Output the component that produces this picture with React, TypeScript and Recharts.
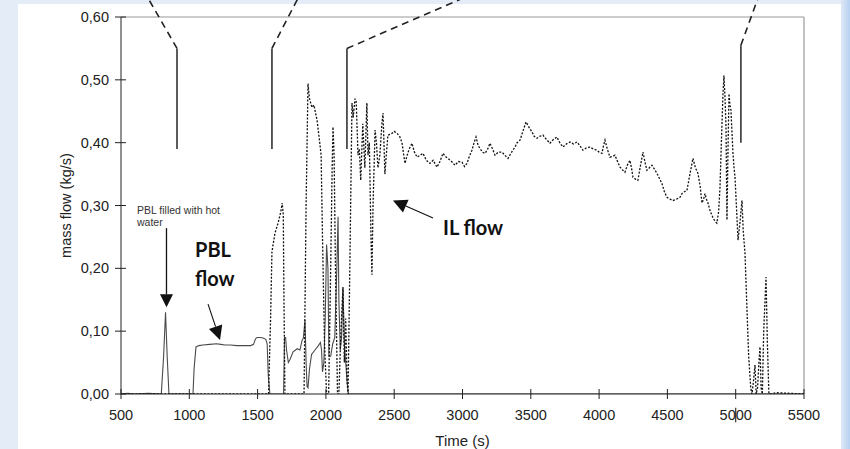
import { LineChart, Line, XAxis, YAxis, ReferenceLine, ReferenceDot } from 'recharts';

// IL flow (dotted trace)
const ilTime = [
  500, 1580, 1595, 1605, 1627, 1650, 1670, 1680, 1688, 1693,
  1700, 1840, 1855, 1869, 1880, 1898, 1912, 1935, 1955, 1965,
  1975, 1990, 2005, 2020, 2035, 2045, 2052, 2060, 2070, 2085,
  2095, 2110, 2125, 2135, 2145, 2155, 2162, 2175, 2191, 2200,
  2213, 2222, 2235, 2245, 2255, 2270, 2285, 2300, 2308, 2318,
  2330, 2337, 2345, 2360, 2370, 2381, 2395, 2410, 2418, 2425,
  2432, 2442, 2454, 2480, 2500, 2520, 2540, 2557, 2570, 2579,
  2595, 2610, 2630, 2648, 2667, 2690, 2711, 2735, 2762, 2785,
  2813, 2835, 2857, 2875, 2894, 2920, 2945, 2970, 2996, 3015,
  3033, 3050, 3069, 3085, 3099, 3115, 3128, 3145, 3165, 3185,
  3201, 3220, 3238, 3262, 3289, 3310, 3333, 3360, 3384, 3400,
  3421, 3445, 3465, 3485, 3509, 3525, 3545, 3565, 3589, 3615,
  3640, 3665, 3691, 3712, 3735, 3760, 3787, 3812, 3838, 3860,
  3882, 3908, 3933, 3958, 3984, 4000, 4021, 4032, 4043, 4060,
  4079, 4098, 4116, 4135, 4153, 4170, 4189, 4208, 4226, 4237,
  4248, 4266, 4284, 4300, 4321, 4335, 4350, 4368, 4387, 4405,
  4424, 4442, 4460, 4478, 4497, 4520, 4541, 4565, 4592, 4607,
  4625, 4643, 4665, 4687, 4705, 4724, 4740, 4753, 4765, 4775,
  4786, 4797, 4815, 4833, 4848, 4862, 4875, 4885, 4895, 4907,
  4914, 4922, 4929, 4936, 4943, 4951, 4958, 4965, 4972, 4980,
  4988, 4995, 5005, 5017, 5030, 5046, 5055, 5068, 5080, 5095,
  5110, 5119, 5130, 5141, 5150, 5160, 5170, 5178, 5186, 5195,
  5205, 5222, 5232, 5243, 5300, 5400, 5500,
];
const ilFlow = [
  0, 0, 0.12, 0.226, 0.256, 0.272, 0.29, 0.304, 0.285, 0.15,
  0, 0, 0.3, 0.494, 0.47, 0.456, 0.46, 0.436, 0.4, 0.38,
  0.25, 0.08, 0, 0, 0.2, 0.35, 0.425, 0.38, 0.2, 0,
  0, 0.1, 0.17, 0.05, 0.12, 0.02, 0, 0.2, 0.463, 0.44,
  0.47, 0.465, 0.38, 0.39, 0.34, 0.43, 0.36, 0.463, 0.38, 0.4,
  0.25, 0.19, 0.3, 0.42, 0.4, 0.36, 0.38, 0.43, 0.447, 0.4,
  0.35, 0.38, 0.412, 0.414, 0.418, 0.415, 0.41, 0.4, 0.38, 0.367,
  0.38, 0.39, 0.399, 0.385, 0.377, 0.38, 0.383, 0.372, 0.367, 0.372,
  0.361, 0.37, 0.383, 0.378, 0.375, 0.37, 0.364, 0.37, 0.369, 0.362,
  0.367, 0.378, 0.388, 0.4, 0.409, 0.395, 0.391, 0.385, 0.383, 0.39,
  0.399, 0.39, 0.38, 0.385, 0.385, 0.38, 0.375, 0.385, 0.393, 0.4,
  0.404, 0.42, 0.433, 0.425, 0.417, 0.41, 0.407, 0.41, 0.412, 0.405,
  0.399, 0.405, 0.409, 0.4, 0.393, 0.398, 0.401, 0.398, 0.401, 0.395,
  0.388, 0.392, 0.393, 0.39, 0.388, 0.385, 0.383, 0.395, 0.404, 0.39,
  0.377, 0.378, 0.38, 0.37, 0.361, 0.357, 0.353, 0.365, 0.372, 0.36,
  0.345, 0.342, 0.34, 0.36, 0.385, 0.37, 0.356, 0.36, 0.364, 0.358,
  0.351, 0.343, 0.335, 0.322, 0.313, 0.31, 0.308, 0.31, 0.313, 0.319,
  0.322, 0.324, 0.35, 0.375, 0.36, 0.351, 0.33, 0.304, 0.31, 0.319,
  0.31, 0.304, 0.29, 0.281, 0.275, 0.272, 0.29, 0.329, 0.4, 0.478,
  0.507, 0.47, 0.425, 0.277, 0.38, 0.478, 0.46, 0.452, 0.42, 0.383,
  0.36, 0.345, 0.3, 0.245, 0.27, 0.308, 0.26, 0.224, 0.15, 0.06,
  0.01, 0, 0.02, 0.046, 0, 0.01, 0.05, 0.075, 0.01, 0,
  0.1, 0.186, 0.08, 0, 0.002, 0.001, 0,
];

// PBL flow (solid trace)
const pblTime = [
  500, 550, 600, 700, 795, 812, 826, 838, 851, 1027,
  1035, 1049, 1070, 1100, 1150, 1200, 1230, 1260, 1300, 1350,
  1400, 1450, 1470, 1485, 1496, 1520, 1540, 1560, 1570, 1578,
  1590, 1690, 1697, 1705, 1712, 1725, 1737, 1760, 1790, 1810,
  1825, 1835, 1847, 1855, 1862, 1869, 1880, 1895, 1920, 1945,
  1960, 1968, 1975, 1985, 1995, 2005, 2015, 2022, 2035, 2050,
  2065, 2080, 2089, 2095, 2105, 2115, 2125, 2135, 2145, 2155,
  2165, 5500,
];
const pblFlow = [
  0, 0.001, 0, 0.001, 0, 0.06, 0.13, 0.06, 0, 0,
  0.04, 0.075, 0.077, 0.078, 0.079, 0.08, 0.079, 0.078, 0.078, 0.077,
  0.077, 0.077, 0.079, 0.088, 0.09, 0.09, 0.089, 0.087, 0.08, 0.03,
  0, 0, 0.09, 0.09, 0.07, 0.05, 0.055, 0.067, 0.072, 0.07,
  0.085, 0.089, 0.118, 0.05, 0.012, 0.01, 0.04, 0.063, 0.07, 0.077,
  0.082, 0.07, 0.035, 0.05, 0.12, 0.238, 0.2, 0.06, 0.06, 0.08,
  0.09, 0.2, 0.282, 0.15, 0.07, 0.09, 0.17, 0.08, 0.05, 0.02,
  0, 0,
];

const xTicks = [500, 1000, 1500, 2000, 2500, 3000, 3500, 4000, 4500, 5000, 5500];
const yTicks = [0, 0.1, 0.2, 0.3, 0.4, 0.5, 0.6];

// event markers: vertical bars with dashed leaders running off the top
const eventTime = [910, 1605, 2154, 5038];
const eventBottom = [0.39, 0.39, 0.39, 0.4];
const eventTop = [0.55, 0.55, 0.55, 0.555];
const leaderTime = [698, 1796, 3003, 5163];
const leaderTop = 0.63;

const ilData = ilTime.map((t, i) => ({ t, v: ilFlow[i] }));
const pblData = pblTime.map((t, i) => ({ t, v: pblFlow[i] }));

const FONT = '"Liberation Sans", Arial, sans-serif';
const BOLD = 'Lato, "Open Sans", sans-serif';
const INK = '#222';

const fmt = (v: number) => v.toFixed(2).replace('.', ',');

const YTick = (p: any) => (
  <g>
    <line x1={p.x - 6} x2={p.x + 5} y1={p.y} y2={p.y} stroke={INK} strokeWidth={1} />
    <text x={p.x - 12} y={p.y + 5} textAnchor="end" fontSize={14.5} fontFamily={FONT} fill={INK}>
      {fmt(p.payload.value)}
    </text>
  </g>
);

const XTick = (p: any) => (
  <g>
    <line x1={p.x} x2={p.x} y1={p.y - 5} y2={p.y + 5} stroke={INK} strokeWidth={1} />
    <text x={p.x} y={p.y + 26} textAnchor="middle" fontSize={14.5} fontFamily={FONT} fill={INK}>
      {p.payload.value}
    </text>
  </g>
);

// straight arrow with a filled triangular head at (x2, y2)
const arrow = (len: number, half: number, width: number) => (p: any) => {
  const { x1, y1, x2, y2 } = p;
  const d = Math.hypot(x2 - x1, y2 - y1) || 1;
  const ux = (x2 - x1) / d;
  const uy = (y2 - y1) / d;
  const bx = x2 - ux * len;
  const by = y2 - uy * len;
  const pts = `${x2},${y2} ${bx - uy * half},${by + ux * half} ${bx + uy * half},${by - ux * half}`;
  return (
    <g>
      <line x1={x1} y1={y1} x2={bx} y2={by} stroke="#111" strokeWidth={width} />
      <polygon points={pts} fill="#111" />
    </g>
  );
};

const note = (lines: string[], size: number, family: string, weight: number, gap: number, fill: string) =>
  (p: any) => (
    <text x={p.cx} y={p.cy} fontSize={size} fontFamily={family} fontWeight={weight} fill={fill}>
      {lines.map((s, i) => (
        <tspan key={i} x={p.cx} dy={i === 0 ? 0 : gap}>
          {s}
        </tspan>
      ))}
    </text>
  );

export default function App() {
  return (
    <div
      style={{
        position: 'absolute',
        left: 0,
        top: 0,
        width: 850,
        height: 449,
        overflow: 'hidden',
        background: 'linear-gradient(to right, #e3ecf7 0px, #e3ecf7 840px, #b7d0f0 850px)',
      }}
    >
      <div style={{ position: 'absolute', left: 18, top: 4, width: 823, height: 445, background: '#fff' }} />
      <div style={{ position: 'absolute', left: 0, top: 0 }}>
        <LineChart width={850} height={449} margin={{ top: 17, right: 46, bottom: 0, left: 11 }}>
          <XAxis
            dataKey="t"
            type="number"
            domain={[500, 5500]}
            ticks={xTicks}
            allowDataOverflow
            height={55}
            tickSize={0}
            tickMargin={0}
            axisLine={{ stroke: INK }}
            tickLine={false}
            tick={XTick}
            label={{
              value: 'Time (s)',
              position: 'insideBottom',
              offset: 3,
              style: { fontSize: 15, fontFamily: FONT, fill: INK },
            }}
          />
          <YAxis
            dataKey="v"
            type="number"
            domain={[0, 0.6]}
            ticks={yTicks}
            allowDataOverflow
            width={110}
            tickSize={0}
            tickMargin={0}
            axisLine={{ stroke: INK }}
            tickLine={false}
            tick={YTick}
            label={{
              value: 'mass flow (kg/s)',
              angle: -90,
              position: 'center',
              style: { fontSize: 14.5, fontFamily: FONT, fill: INK },
            }}
          />

          {/* plot frame, top and right */}
          <ReferenceLine y={0.6} stroke="#9a9a9a" strokeWidth={1.2} />
          <ReferenceLine x={5500} stroke="#9a9a9a" strokeWidth={1.2} />

          <Line
            data={pblData}
            dataKey="v"
            type="linear"
            stroke="#4a4a4a"
            strokeWidth={1.1}
            dot={false}
            isAnimationActive={false}
          />
          <Line
            data={ilData}
            dataKey="v"
            type="linear"
            stroke="#111"
            strokeWidth={1.3}
            strokeDasharray="2 1.6"
            dot={false}
            isAnimationActive={false}
          />

          {eventTime.map((t, i) => (
            <ReferenceLine
              key={`bar-${i}`}
              segment={[
                { x: t, y: eventBottom[i] },
                { x: t, y: eventTop[i] },
              ]}
              stroke="#333"
              strokeWidth={1.6}
              ifOverflow="visible"
            />
          ))}
          {eventTime.map((t, i) => (
            <ReferenceLine
              key={`lead-${i}`}
              segment={[
                { x: t, y: eventTop[i] },
                { x: leaderTime[i], y: leaderTop },
              ]}
              stroke="#222"
              strokeWidth={1.6}
              strokeDasharray="7 5"
              ifOverflow="visible"
            />
          ))}

          {/* stray mark through the 5000 label */}
          <ReferenceLine
            segment={[
              { x: 5000, y: -0.022 },
              { x: 5000, y: -0.045 },
            ]}
            stroke="#333"
            strokeWidth={1.2}
            ifOverflow="visible"
          />

          <ReferenceLine
            segment={[
              { x: 833, y: 0.264 },
              { x: 833, y: 0.138 },
            ]}
            ifOverflow="visible"
            shape={arrow(13, 6.5, 1.3)}
          />
          <ReferenceLine
            segment={[
              { x: 1137, y: 0.143 },
              { x: 1225, y: 0.086 },
            ]}
            ifOverflow="visible"
            shape={arrow(14, 7, 1.1)}
          />
          <ReferenceLine
            segment={[
              { x: 2784, y: 0.28 },
              { x: 2491, y: 0.308 },
            ]}
            ifOverflow="visible"
            shape={arrow(14, 7, 1.1)}
          />

          <ReferenceDot
            x={617}
            y={0.286}
            ifOverflow="visible"
            shape={note(['PBL filled with hot', 'water'], 10.5, FONT, 400, 12, '#333')}
          />
          <ReferenceDot
            x={1042}
            y={0.218}
            ifOverflow="visible"
            shape={note(['PBL', 'flow'], 20, BOLD, 700, 29, '#111')}
          />
          <ReferenceDot
            x={2857}
            y={0.253}
            ifOverflow="visible"
            shape={note(['IL flow'], 20, BOLD, 700, 0, '#111')}
          />
        </LineChart>
      </div>
    </div>
  );
}
